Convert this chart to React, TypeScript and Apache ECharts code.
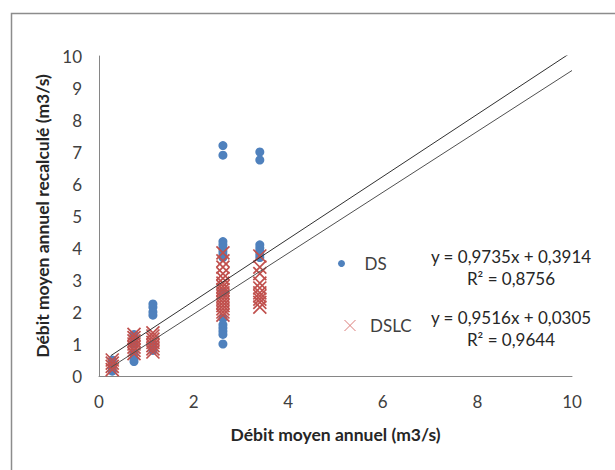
import React, { useEffect, useRef } from "react";
import * as echarts from "echarts";

// DS series (blue dots)
const dsX = [
  0.28, 0.28, 0.28, 0.28,
  0.74, 0.74, 0.74, 0.74, 0.74, 0.74,
  1.14, 1.14, 1.14, 1.14, 1.14, 1.14, 1.14,
  2.62, 2.62, 2.62, 2.62, 2.62, 2.62, 2.62, 2.62, 2.62, 2.62, 2.62, 2.62, 2.62, 2.62, 2.62,
  3.4, 3.4, 3.4, 3.4, 3.4, 3.4, 3.4,
];
const dsY = [
  0.15, 0.25, 0.35, 0.5,
  0.45, 0.55, 0.7, 1.0, 1.2, 1.3,
  0.8, 0.9, 1.0, 1.9, 2.0, 2.15, 2.25,
  7.2, 6.9, 4.2, 4.1, 4.0, 3.9, 3.8, 3.7, 2.6, 1.8, 1.6, 1.5, 1.4, 1.3, 1.0,
  7.0, 6.75, 4.1, 4.0, 3.9, 3.8, 3.7,
];

// DSLC series (red crosses)
const dslcX = [
  0.28, 0.28, 0.28, 0.28,
  0.74, 0.74, 0.74, 0.74, 0.74, 0.74, 0.74,
  1.14, 1.14, 1.14, 1.14, 1.14, 1.14, 1.14,
  2.62, 2.62, 2.62, 2.62, 2.62, 2.62, 2.62, 2.62, 2.62, 2.62, 2.62, 2.62, 2.62, 2.62, 2.62, 2.62,
  3.4, 3.4, 3.4, 3.4, 3.4, 3.4, 3.4, 3.4, 3.4, 3.4,
];
const dslcY = [
  0.2, 0.3, 0.4, 0.5,
  0.7, 0.8, 0.9, 1.0, 1.1, 1.2, 1.3,
  0.75, 0.85, 0.95, 1.05, 1.15, 1.25, 1.35,
  3.85, 3.6, 3.4, 3.2, 3.05, 2.9, 2.8, 2.7, 2.6, 2.5, 2.4, 2.3, 2.2, 2.1, 2.0, 1.9,
  3.75, 3.4, 3.2, 2.9, 2.75, 2.6, 2.5, 2.4, 2.3, 2.15,
];

// Trend line coefficients [slope, intercept]
const dsTrend = [0.9735, 0.3914];
const dslcTrend = [0.9516, 0.0305];
const trendRange = [0.25, 10];

const dsEquation = ["y = 0,9735x + 0,3914", "R² = 0,8756"];
const dslcEquation = ["y = 0,9516x + 0,0305", "R² = 0,9644"];

const seriesNames = ["DS", "DSLC"];
const xTicks = { min: 0, max: 10, interval: 2 };
const yTicks = { min: 0, max: 10, interval: 1 };

const FONT = "Lato, 'Open Sans', sans-serif";
const BLUE = "#4F81BD";
const RED = "#C0504D";
const CROSS = "path://M0,0L10,10M10,0L0,10";

export default function App() {
  const ref = useRef<HTMLDivElement>(null);
  useEffect(() => {
    if (!ref.current) return;
    const chart = echarts.init(ref.current, null, { renderer: "svg" });
    const line = (c: number[]) => trendRange.map((x) => [x, c[0] * x + c[1]]);
    const legendText = { fontFamily: FONT, fontSize: 17, color: "#404040" };
    chart.setOption({
      animation: false,
      backgroundColor: "#ffffff",
      grid: { left: 99, right: 43, top: 56, bottom: 94 },
      xAxis: {
        type: "value",
        ...xTicks,
        name: "Débit moyen annuel (m3/s)",
        nameLocation: "middle",
        nameGap: 49,
        nameTextStyle: { fontFamily: FONT, fontSize: 17.5, fontWeight: "bold", color: "#262626" },
        axisLine: { show: true, lineStyle: { color: "#868686", width: 1 } },
        axisTick: { show: false },
        splitLine: { show: false },
        axisLabel: { fontFamily: FONT, fontSize: 17, color: "#404040", margin: 17 },
      },
      yAxis: {
        type: "value",
        ...yTicks,
        name: "Débit moyen annuel recalculé (m3/s)",
        nameLocation: "middle",
        nameGap: 47,
        nameRotate: 90,
        nameTextStyle: { fontFamily: FONT, fontSize: 17.5, fontWeight: "bold", color: "#262626" },
        axisLine: { show: true, lineStyle: { color: "#868686", width: 1 } },
        axisTick: { show: false },
        splitLine: { show: false },
        axisLabel: { fontFamily: FONT, fontSize: 17, color: "#404040", margin: 17 },
      },
      legend: [
        {
          left: 338,
          top: 255,
          padding: 0,
          itemWidth: 36,
          itemHeight: 7,
          textStyle: legendText,
          data: [{ name: seriesNames[0], icon: "circle" }],
          itemStyle: { color: BLUE },
        },
        {
          left: 342,
          top: 317,
          padding: 0,
          itemWidth: 30,
          itemHeight: 11,
          textStyle: legendText,
          data: [{ name: seriesNames[1], icon: CROSS }],
          itemStyle: { color: "none", borderColor: "#DC7D7A", borderWidth: 1 },
        },
      ],
      graphic: [
        { type: "rect", left: 9, top: 11, shape: { width: 620, height: 480 }, style: { fill: "none", stroke: "#8c8c8c", lineWidth: 1.5 }, silent: true },
        ...[
          [dsEquation[0], 256],
          [dsEquation[1], 278],
          [dslcEquation[0], 317],
          [dslcEquation[1], 339],
        ].map(([t, y]) => ({
          type: "text",
          x: 511,
          y: y as number,
          style: { text: t as string, fontFamily: FONT, fontSize: 17, fill: "#262626", textAlign: "center", textVerticalAlign: "middle" },
        })),
      ],
      series: [
        {
          name: seriesNames[0],
          type: "scatter",
          symbol: "circle",
          symbolSize: 9,
          itemStyle: { color: BLUE, opacity: 1 },
          data: dsX.map((x, i) => [x, dsY[i]]),
          z: 2,
        },
        {
          name: seriesNames[1],
          type: "scatter",
          symbol: CROSS,
          symbolSize: 13,
          itemStyle: { color: "none", borderColor: RED, borderWidth: 1.7, opacity: 1 },
          data: dslcX.map((x, i) => [x, dslcY[i]]),
          z: 3,
        },
        {
          type: "line",
          data: line(dsTrend),
          symbol: "none",
          lineStyle: { color: "#303030", width: 1 },
          z: 4,
        },
        {
          type: "line",
          data: line(dslcTrend),
          symbol: "none",
          lineStyle: { color: "#505050", width: 1 },
          z: 4,
        },
      ],
    });
    return () => chart.dispose();
  }, []);
  return <div ref={ref} style={{ position: "absolute", left: 0, top: 0, width: 615, height: 470 }} />;
}
